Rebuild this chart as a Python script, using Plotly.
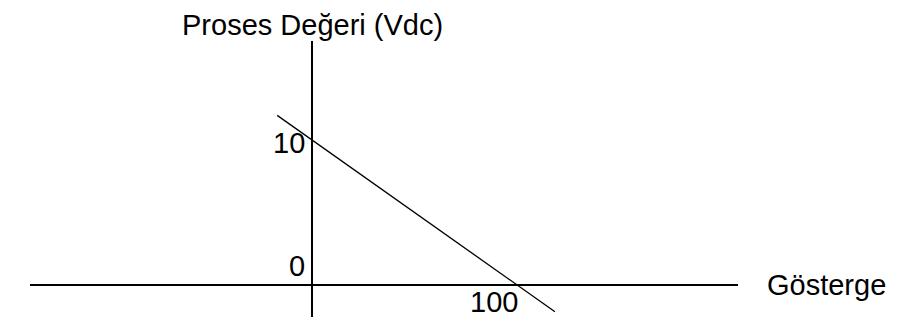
import plotly.graph_objects as go

# Values
LINE_X = [-17, 118.5]
LINE_Y = [11.7, -1.85]

Y_TITLE = "Proses Değeri (Vdc)"
X_TITLE = "Gösterge"

# value labels next to the axes
LABEL_Y_VALUES = [10, 0]
LABEL_X_VALUES = [100]

FONT = "Arial, Liberation Sans, sans-serif"
FONT_SIZE = 29


def main():
    fig = go.Figure()

    fig.add_trace(
        go.Scatter(
            x=LINE_X,
            y=LINE_Y,
            mode="lines",
            line_color="#000000",
            line_width=1.3,
            hoverinfo="skip",
        )
    )

    # The axes are drawn with the zero lines.
    fig.update_xaxes(
        range=[-137.6, 207.8],
        showgrid=False,
        showticklabels=False,
        zeroline=True,
        zerolinecolor="#000000",
        zerolinewidth=2.2,
    )
    fig.update_yaxes(
        range=[-2.21, 16.83],
        showgrid=False,
        showticklabels=False,
        zeroline=True,
        zerolinecolor="#000000",
        zerolinewidth=2.2,
    )

    for v in LABEL_Y_VALUES:
        fig.add_annotation(
            x=0,
            y=v,
            xref="x",
            yref="y",
            text=str(v),
            showarrow=False,
            xanchor="right",
            yanchor="middle" if v != 0 else "bottom",
            xshift=-5,
            yshift=-3 if v != 0 else 1,
            font_size=FONT_SIZE,
        )

    for v in LABEL_X_VALUES:
        fig.add_annotation(
            x=v,
            y=0,
            xref="x",
            yref="y",
            text=str(v),
            showarrow=False,
            xanchor="right",
            yanchor="top",
            xshift=3,
            yshift=1,
            font_size=FONT_SIZE,
        )

    # Title of the vertical axis, kept just inside the top edge.
    fig.add_annotation(
        x=0,
        y=1,
        xref="x",
        yref="paper",
        text=Y_TITLE,
        showarrow=False,
        xanchor="center",
        yanchor="bottom",
        yshift=-1,
        borderpad=0,
        font_size=FONT_SIZE,
    )

    fig.add_annotation(
        x=1.0385,
        y=0,
        xref="paper",
        yref="y",
        text=X_TITLE,
        showarrow=False,
        xanchor="left",
        yanchor="middle",
        font_size=FONT_SIZE,
    )

    # The page body adds 8px on the left and top, so the margins are reduced.
    fig.update_layout(
        width=902,
        height=325,
        showlegend=False,
        font_family=FONT,
        font_color="#000000",
        plot_bgcolor="#FFFFFF",
        paper_bgcolor="#FFFFFF",
        margin_l=22,
        margin_r=172,
        margin_t=33,
        margin_b=16,
    )

    fig.write_html("out.html")


if __name__ == "__main__":
    main()
